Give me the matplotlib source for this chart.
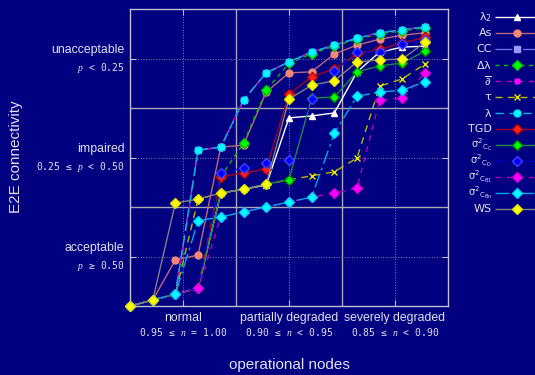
import numpy as np
import matplotlib
matplotlib.use('Agg')
import matplotlib.pyplot as plt
from matplotlib.lines import Line2D

plt.rcParams['mathtext.fontset'] = 'custom'
plt.rcParams['mathtext.rm'] = 'DejaVu Sans'
plt.rcParams['mathtext.it'] = 'Liberation Serif:italic'

# 14 measurement steps along the x axis
nodes = np.arange(14)

# connectivity level per metric (0..6, 2 units per class)
lam2 = [0, 0.12, 0.24, 0.36, 2.28, 2.36, 2.44, 3.80, 3.84, 3.90, 4.73, 5.13, 5.23, 5.25]
assort = [0, 0.12, 0.93, 1.03, 3.21, 3.25, 4.32, 4.71, 4.73, 5.09, 5.27, 5.39, 5.47, 5.52]
cc = [0, 0.12, 0.24, 3.15, 3.21, 4.16, 4.71, 4.93, 5.13, 5.27, 5.41, 5.52, 5.58, 5.64]
dlam = [0, 0.12, 0.24, 0.36, 2.61, 3.29, 4.36, 4.90, 5.10, 5.25, 5.39, 5.50, 5.56, 5.62]
dbar = [0, 0.12, 0.24, 3.15, 3.21, 4.16, 4.71, 4.93, 5.13, 5.27, 5.41, 5.52, 5.58, 5.64]
tau = [0, 0.12, 0.24, 2.16, 2.28, 2.36, 2.46, 2.55, 2.63, 2.71, 2.99, 4.44, 4.59, 4.89]
lam = [0, 0.12, 0.24, 3.15, 3.21, 4.16, 4.71, 4.93, 5.13, 5.27, 5.41, 5.52, 5.58, 5.64]
tgd = [0, 0.12, 0.24, 0.36, 2.61, 2.69, 2.77, 4.28, 4.63, 4.79, 5.09, 5.19, 5.31, 5.43]
var_cc = [0, 0.12, 0.24, 0.36, 2.28, 2.36, 2.46, 2.55, 4.20, 4.22, 4.73, 4.85, 4.91, 5.15]
var_cd = [0, 0.12, 0.24, 0.36, 2.69, 2.79, 2.89, 2.95, 4.18, 4.75, 5.13, 5.13, 5.29, 5.37]
var_cb1 = [0, 0.12, 0.24, 0.36, 1.80, 1.90, 2.00, 2.10, 2.20, 2.28, 2.38, 4.16, 4.20, 4.71]
var_cbn = [0, 0.12, 0.24, 1.72, 1.80, 1.90, 2.00, 2.10, 2.20, 3.49, 4.24, 4.32, 4.36, 4.53]
ws = [0, 0.12, 2.08, 2.16, 2.28, 2.36, 2.46, 4.18, 4.46, 4.55, 4.93, 4.97, 4.99, 5.33]

labels = [r'$\mathrm{\lambda_2}$', 'As', 'CC', r'$\mathrm{\Delta\lambda}$',
          r'$\mathrm{\overline{\partial}}$', r'$\mathrm{\tau}$', r'$\mathrm{\lambda}$', 'TGD',
          r'$\mathrm{\sigma^2{}_{C_C}}$', r'$\mathrm{\sigma^2{}_{C_D}}$',
          r'$\mathrm{\sigma^2{}_{C_{B1}}}$', r'$\mathrm{\sigma^2{}_{C_{Bn}}}$', 'WS']
values = [lam2, assort, cc, dlam, dbar, tau, lam, tgd, var_cc, var_cd, var_cb1, var_cbn, ws]

# line colour, dash pattern, marker, marker face, marker edge
styles = [
    ('#ffffff', (0, ()), '^', '#ffffff', '#ffffff'),
    ('#c06878', (0, ()), 'o', '#f08878', '#f08878'),
    ('#7070e8', (0, (12, 3, 2, 3)), 's', '#9898ff', '#9898ff'),
    ('#00c000', (0, (3, 3)), 'D', '#00ff00', '#00c000'),
    ('#c000c0', (0, (4, 4)), (8, 2, 0), '#ff00ff', '#ff00ff'),
    ('#b8b800', (0, (5, 4)), 'x', '#e8e800', '#e8e800'),
    ('#00b8e0', (0, (6, 4)), 'o', '#00ffff', '#00e0ff'),
    ('#a00028', (0, ()), 'D', '#ff2020', '#c00000'),
    ('#208848', (0, ()), 'D', '#00ff00', '#008000'),
    ('#0000d0', (0, (6, 5)), 'D', '#0000ff', '#4040ff'),
    ('#b000c0', (0, (4, 4)), 'D', '#ff00ff', '#d000d0'),
    ('#00a8e8', (0, (10, 3, 2, 3)), 'D', '#00ffff', '#00c8ff'),
    ('#808080', (0, ()), 'D', '#ffff00', '#e0e000'),
]

bg = '#000080'
txt = '#e0e0ec'
W, H = 535, 375

fig = plt.figure(figsize=(5.35, 3.75), dpi=100, facecolor=bg)
ax = fig.add_axes([0.243, 0.184, 0.594, 0.792])
ax.set_facecolor(bg)

for lab, vals, (lc, ls, mk, mfc, mec) in zip(labels, values, styles):
    ax.plot(nodes, vals, color=lc, linestyle=ls, linewidth=1.0, marker=mk,
            markersize=5, markerfacecolor=mfc, markeredgecolor=mec,
            markeredgewidth=1.0, clip_on=False, zorder=3)

ax.set_xlim(0, 14)
ax.set_ylim(0, 6)

# class borders (solid) and class centres (dotted)
for xv in [14 / 3, 28 / 3]:
    ax.axvline(xv, color='#a8a8b8', linewidth=1.0, zorder=1)
for yv in [2, 4]:
    ax.axhline(yv, color='#a8a8b8', linewidth=1.0, zorder=1)

xcent = [7 / 3, 7, 35 / 3]
ycent = [1, 3, 5]
ax.set_xticks(xcent)
ax.set_yticks(ycent)
ax.set_xticklabels([])
ax.set_yticklabels([])
ax.grid(True, color='#8080b0', linestyle=':', linewidth=0.7, zorder=0)
ax.tick_params(direction='in', top=True, right=True, length=4, color='#c0c0d0')
for sp in ax.spines.values():
    sp.set_color('#c0c0d0')
    sp.set_linewidth(1.0)

x_names = ['normal', 'partially degraded', 'severely degraded']
x_ranges = [r'0.95 ≤ $n$ = 1.00', r'0.90 ≤ $n$ < 0.95', r'0.85 ≤ $n$ < 0.90']
y_names = ['acceptable', 'impaired', 'unacceptable']
y_ranges = [r'$p$ ≥ 0.50', r'0.25 ≤ $p$ < 0.50', r'$p$ < 0.25']

for xv, name, rng in zip(xcent, x_names, x_ranges):
    ax.annotate(name, xy=(xv, 0), xycoords=('data', 'axes fraction'), xytext=(0, -8.5),
                textcoords='offset points', ha='center', va='center',
                fontsize=8.8, family='Liberation Sans', color=txt)
    ax.annotate(rng, xy=(xv, 0), xycoords=('data', 'axes fraction'), xytext=(0, -18.5),
                textcoords='offset points', ha='center', va='center',
                fontsize=7, family='DejaVu Sans Mono', color=txt)

for yv, name, rng in zip(ycent, y_names, y_ranges):
    ax.annotate(name, xy=(0, yv), xycoords=('axes fraction', 'data'), xytext=(-4, 6),
                textcoords='offset points', ha='right', va='center',
                fontsize=8.8, family='Liberation Sans', color=txt)
    ax.annotate(rng, xy=(0, yv), xycoords=('axes fraction', 'data'), xytext=(-4, -6.5),
                textcoords='offset points', ha='right', va='center',
                fontsize=7, family='DejaVu Sans Mono', color=txt)

fig.text(289 / W, 1 - 365 / H, 'operational nodes', ha='center',
         va='center', fontsize=11, family='Liberation Sans', color=txt)
fig.text(16 / W, 1 - 157 / H, 'E2E connectivity', ha='center', va='center',
         rotation=90, fontsize=11, family='Liberation Sans', color=txt)

# key drawn by hand so every row keeps the same height
for k, (lab, (lc, ls, mk, mfc, mec)) in enumerate(zip(labels, styles)):
    yk = 1 - (17 + 16 * k) / H
    size = 7.2 if 'sigma' in lab else 8
    fig.text(492 / W, yk, lab, ha='right', va='center', fontsize=size,
             family='DejaVu Sans', color=txt)
    fig.add_artist(Line2D([495 / W, 545 / W], [yk, yk], transform=fig.transFigure,
                          color=lc, linestyle=ls, linewidth=1.0))
    fig.add_artist(Line2D([517 / W], [yk], transform=fig.transFigure, linestyle='none',
                          marker=mk, markersize=5, markerfacecolor=mfc,
                          markeredgecolor=mec, markeredgewidth=1.0))

fig.savefig('out.png', dpi=100, facecolor=bg)
